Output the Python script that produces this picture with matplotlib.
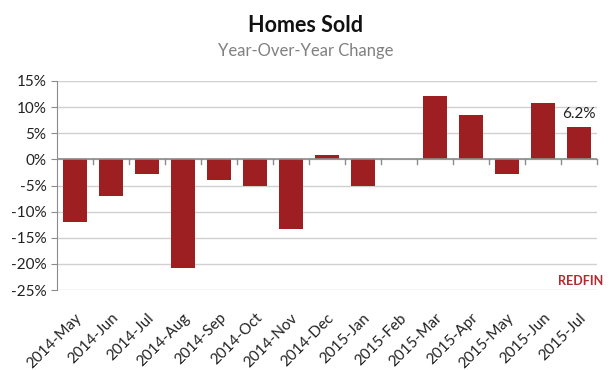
import numpy as np
import matplotlib.pyplot as plt
from matplotlib.ticker import FuncFormatter

months = ["2014-May", "2014-Jun", "2014-Jul", "2014-Aug", "2014-Sep", "2014-Oct",
          "2014-Nov", "2014-Dec", "2015-Jan", "2015-Feb", "2015-Mar", "2015-Apr",
          "2015-May", "2015-Jun", "2015-Jul"]
yoy_change = [-12.0, -7.0, -2.8, -20.8, -4.0, -5.1, -13.4, 0.8, -5.1, 0.0,
              12.2, 8.5, -2.8, 10.8, 6.2]
y_ticks = [15, 10, 5, 0, -5, -10, -15, -20, -25]

plt.rcParams['font.family'] = ['Lato', 'DejaVu Sans']

fig = plt.figure(figsize=(6.12, 3.70), dpi=100)
ax = fig.add_axes([57 / 612, 1 - 290 / 370, 540 / 612, 209 / 370])

x = np.arange(len(months))
ax.bar(x, yoy_change, width=0.67, color="#9e1f21", zorder=3)

ax.set_xlim(-0.5, len(months) - 0.5)
ax.set_ylim(-25, 15)
ax.set_yticks(y_ticks)
ax.yaxis.set_major_formatter(FuncFormatter(lambda v, p: f"{v:.0f}%"))
ax.grid(axis="y", color="#d0d0d0", linewidth=1, zorder=0)

for s in ["top", "right", "bottom"]:
    ax.spines[s].set_visible(False)
ax.spines["left"].set_color("#8c8c8c")
ax.tick_params(axis="y", length=4, color="#8c8c8c", labelsize=11, labelcolor="#222222")

# zero line with ticks between categories
ax.axhline(0, color="#8c8c8c", linewidth=1.2, zorder=4)
for b in np.arange(0.5, len(months), 1.0):
    ax.plot([b, b], [0, -0.9], color="#8c8c8c", linewidth=1, zorder=4, clip_on=False)

ax.set_xticks(x)
ax.set_xticklabels(months, rotation=45, ha="right", rotation_mode="anchor")
ax.tick_params(axis="x", length=0, labelsize=11, labelcolor="#222222", pad=15)

# label on last bar
ax.text(x[-1], yoy_change[-1] + 1.2, f"{yoy_change[-1]}%", ha="center", va="bottom",
        fontsize=11, color="#222222")

fig.text(0.5, 1 - 25 / 370, "Homes Sold", ha="center", va="center",
         fontsize=15.5, fontweight="bold", color="#111111")
fig.text(0.5, 1 - 51 / 370, "Year-Over-Year Change", ha="center", va="center",
         fontsize=12, color="#808080")
fig.text(603 / 612, 1 - 281 / 370, "REDFIN", ha="right", va="center",
         fontsize=9, fontweight="bold", color="#b22a2e")

fig.savefig("out.png", dpi=100)
